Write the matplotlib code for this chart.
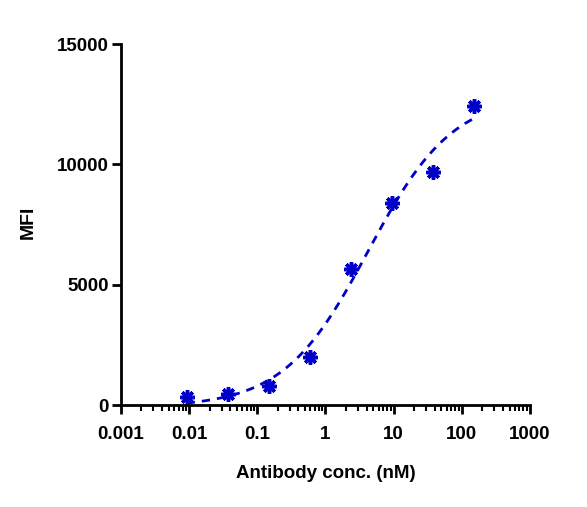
import matplotlib
matplotlib.use("Agg")
import matplotlib.pyplot as plt
import numpy as np
from matplotlib.ticker import LogLocator, NullFormatter, FixedLocator

plt.rcParams['font.family'] = ['Liberation Sans', 'DejaVu Sans']

# data
conc_nM = [0.0092, 0.037, 0.146, 0.586, 2.34, 9.375, 37.5, 150.0]
mfi = [330, 457, 790, 1995, 5650, 8400, 9680, 12430]

xticks = [0.001, 0.01, 0.1, 1, 10, 100, 1000]
xtick_labels = ["0.001", "0.01", "0.1", "1", "10", "100", "1000"]
yticks = [0, 5000, 10000, 15000]

blue = "#0000C8"


def four_pl(x, p):
    bottom, top, logc, hill = p
    return bottom + (top - bottom) / (1 + 10 ** ((logc - np.log10(x)) * hill))


def fit_4pl(x, y):
    # plain Levenberg-Marquardt, good enough for 8 points
    x = np.asarray(x, float)
    y = np.asarray(y, float)
    p = np.array([0.0, y.max(), np.log10(x[np.argmin(abs(y - y.max() / 2))]), 1.0])
    lam = 1e-2
    for _ in range(500):
        r = y - four_pl(x, p)
        J = np.zeros((len(x), 4))
        for k in range(4):
            dp = np.zeros(4)
            dp[k] = 1e-6 * max(1.0, abs(p[k]))
            J[:, k] = (four_pl(x, p + dp) - four_pl(x, p)) / dp[k]
        A = J.T @ J
        g = J.T @ r
        step = np.linalg.solve(A + lam * np.diag(np.diag(A)), g)
        new = p + step
        if np.sum((y - four_pl(x, new)) ** 2) < np.sum(r ** 2):
            p = new
            lam *= 0.3
        else:
            lam *= 10
    return p


params = fit_4pl(conc_nM, mfi)
xs = np.logspace(np.log10(min(conc_nM)), np.log10(max(conc_nM)), 300)

fig = plt.figure(figsize=(5.87, 5.07), dpi=100)
ax = fig.add_axes([0.206, 0.201, 0.697, 0.712])

ax.plot(xs, four_pl(xs, params), color=blue, lw=2, dashes=(3, 2.5))
ax.plot(conc_nM, mfi, linestyle="none", marker=(8, 2, 0), markersize=10.5,
        markeredgewidth=2.5, color=blue, clip_on=False)

ax.set_xscale("log")
ax.set_xlim(0.001, 1000)
ax.set_ylim(0, 15000)
ax.xaxis.set_major_locator(FixedLocator(xticks))
ax.set_xticklabels(xtick_labels)
ax.xaxis.set_minor_locator(LogLocator(base=10, subs=np.arange(2, 10)))
ax.xaxis.set_minor_formatter(NullFormatter())
ax.set_yticks(yticks)
ax.set_yticklabels([str(v) for v in yticks])

for s in ["top", "right"]:
    ax.spines[s].set_visible(False)
for s in ["left", "bottom"]:
    ax.spines[s].set_linewidth(2)

ax.tick_params(axis="both", which="major", direction="out", length=6.5, width=2,
               labelsize=13.5)
ax.tick_params(axis="x", which="major", pad=8.5)
ax.tick_params(axis="y", which="major", pad=2)
ax.tick_params(axis="x", which="minor", direction="out", length=4.5, width=1.5)
for lab in ax.get_xticklabels() + ax.get_yticklabels():
    lab.set_fontweight("bold")

ax.set_xlabel("Antibody conc. (nM)", fontsize=13.5, fontweight="bold", labelpad=16)
fig.text(28 / 587, 1 - 222 / 507, "MFI", rotation=90, ha="center", va="center",
         fontsize=14, fontweight="bold")

fig.savefig("out.png", dpi=100)
